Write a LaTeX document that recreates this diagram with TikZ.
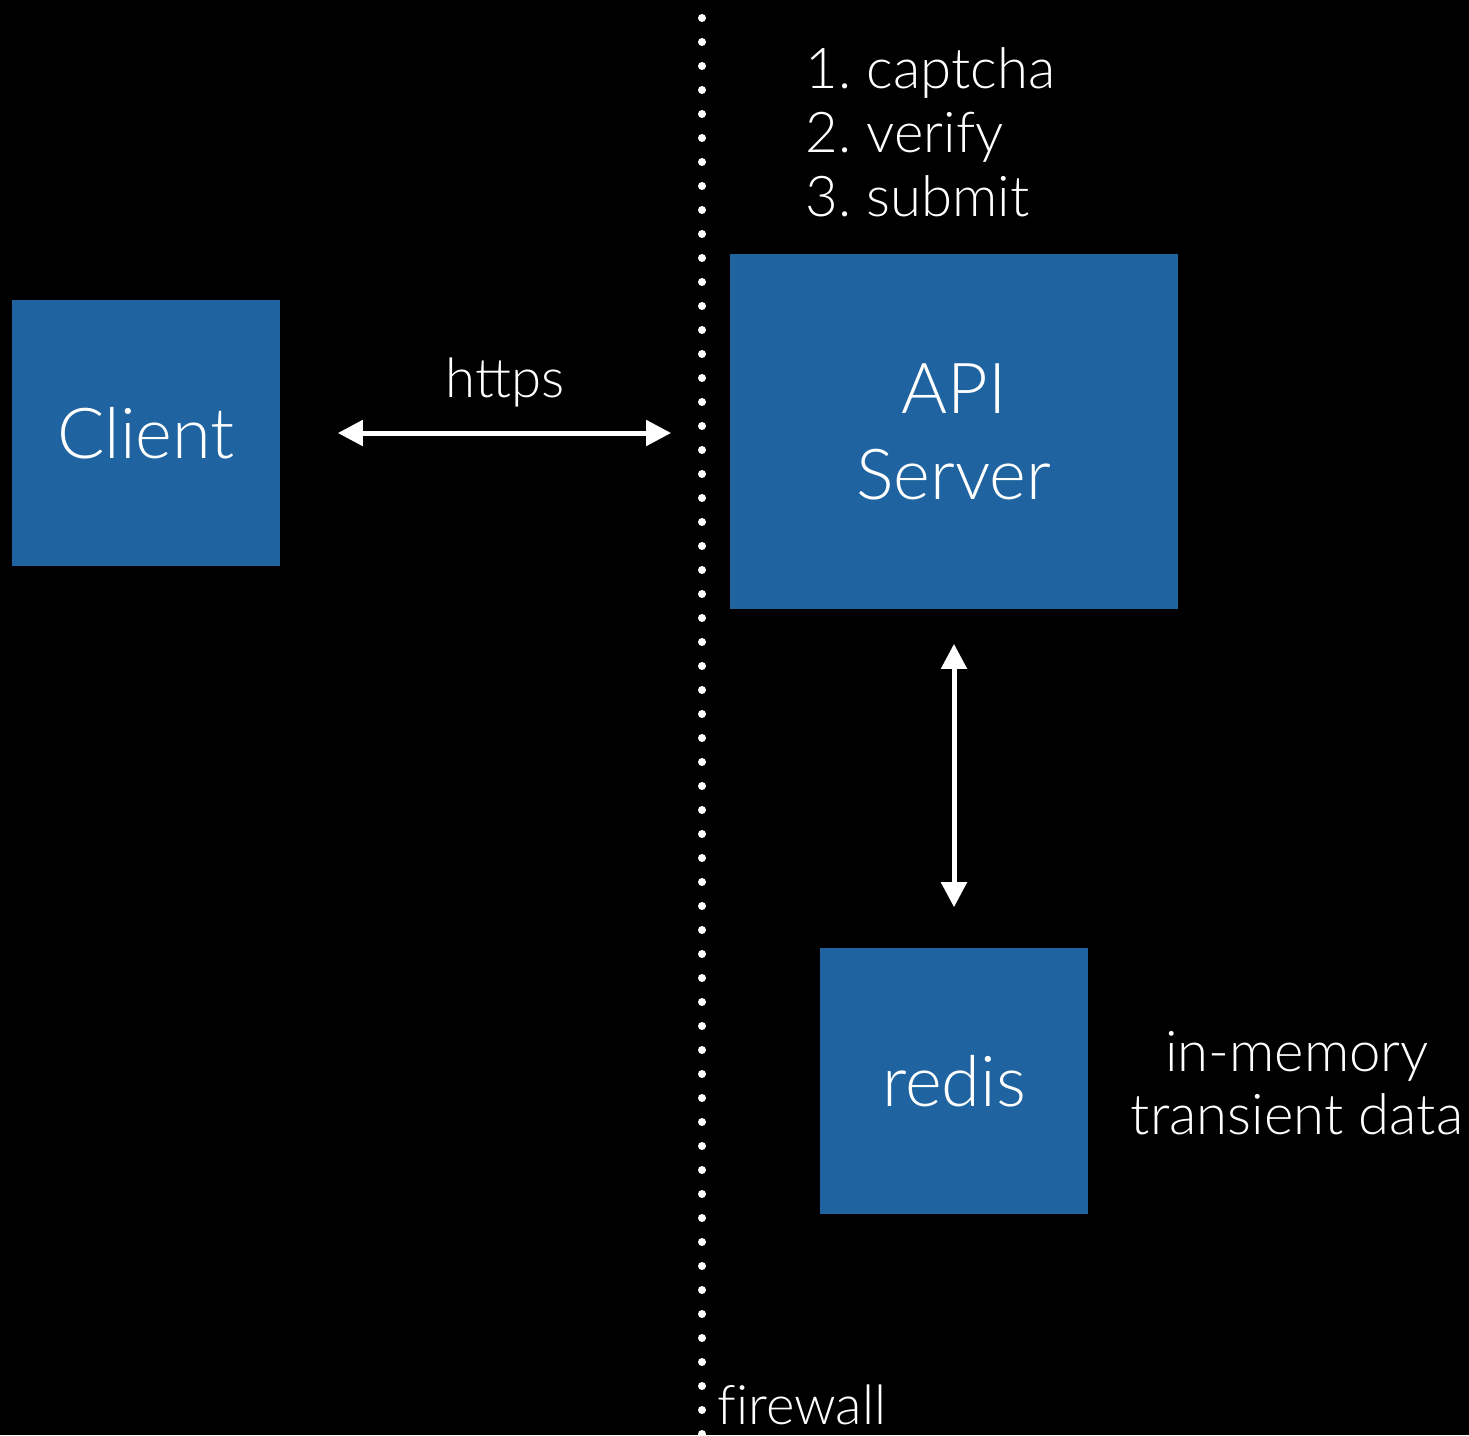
\documentclass[tikz,border=0pt]{standalone}
\usepackage{fontspec}
\setmainfont{Lato}[UprightFont={* Light}]
\usetikzlibrary{arrows.meta}
\definecolor{boxblue}{RGB}{31,100,160}
\tikzset{
  box/.style={fill=boxblue, draw=none, text=white, align=center, inner sep=0pt, font=\fontsize{20}{24.5}\selectfont},
  lbl/.style={text=white, inner sep=0pt, font=\fontsize{15.5}{18}\selectfont},
  conn/.style={white, line width=0.05cm, {Triangle[length=0.25cm,width=0.25cm]}-{Triangle[length=0.25cm,width=0.25cm]}}
}
\begin{document}
\begin{tikzpicture}[x=0.01cm,y=-0.01cm]
\fill[black] (0,0) rectangle (1469,1435);
\useasboundingbox (0,0) rectangle (1469,1435);
% firewall dots
\foreach \k in {0,...,59}{\fill[white] (702,{18+24*\k}) circle (4);}
\node[box, minimum width=2.68cm, minimum height=2.66cm] (client) at (146,433) {Client};
\node[box, minimum width=4.48cm, minimum height=3.55cm] (api) at (954,431.5) {API\\Server};
\node[box, minimum width=2.68cm, minimum height=2.66cm] (redis) at (954,1081) {redis};
\node[lbl] (https) at (505,382) {https};
\node[lbl, anchor=north west, align=left, font=\fontsize{16}{18.2}\selectfont] (steps) at (805,47) {1.\ captcha\\2.\ verify\\3.\ submit};
\node[lbl, align=center, font=\fontsize{16}{18}\selectfont] (note) at (1297,1083) {in-memory\\transient data};
\node[lbl, anchor=west, font=\fontsize{15.5}{20}\selectfont\addfontfeatures{Ligatures=NoCommon}] (fw) at (717,1405) {firewall};
\draw[conn, shorten <=0.57cm, shorten >=0.58cm] (client.east) -- (api.west |- client.east);
\draw[conn, shorten <=0.34cm, shorten >=0.40cm] (api.south) -- (redis.north);
\end{tikzpicture}
\end{document}
